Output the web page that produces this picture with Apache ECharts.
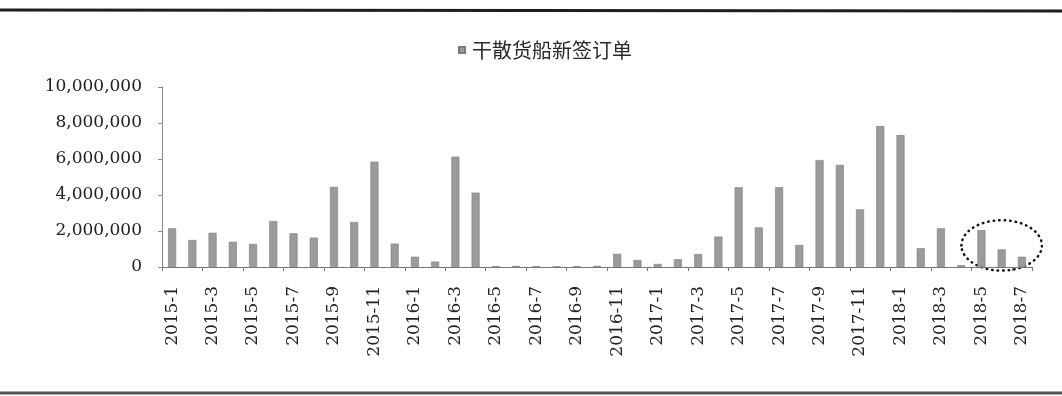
<!DOCTYPE html>
<html>
<head>
<meta charset="utf-8">
<script src="https://cdn.jsdelivr.net/npm/echarts@6/dist/echarts.min.js"></script>
<style>
  html, body { margin: 0; padding: 0; background: #fff; }
  #chart { width: 1062px; height: 396px; }
</style>
</head>
<body>
<div id="chart"></div>
<script>
// Monthly categories, 2015-1 .. 2018-7
const months = [];
for (let y = 2015; y <= 2018; y++) {
  const last = y === 2018 ? 7 : 12;
  for (let m = 1; m <= last; m++) months.push(y + '-' + m);
}

// New dry bulk carrier orders (DWT)
const newOrders = [
  2150000, 1500000, 1900000, 1400000, 1280000, 2550000, 1870000, 1630000, 4450000, 2500000, 5850000, 1300000,
  570000, 300000, 6130000, 4130000, 40000, 60000, 40000, 30000, 40000, 60000, 730000, 390000,
  170000, 430000, 720000, 1690000, 4430000, 2200000, 4430000, 1220000, 5940000, 5670000, 3200000, 7830000,
  7330000, 1040000, 2150000, 100000, 2050000, 980000, 570000
];

const seriesName = '干散货船新签订单';

// Y axis range and step
const yMin = 0, yMax = 10000000, yStep = 2000000;

// Dotted ring around the latest months, in data units
const ringCenter = ['2018-6', 1200000];
const ringFrom = '2018-5', ringTo = '2018-7';
const ringHalfHeight = 1400000;

const chart = echarts.init(document.getElementById('chart'));

const option = {
  backgroundColor: '#ffffff',
  animation: false,
  legend: {
    data: [seriesName],
    left: 453,
    top: 35,
    icon: 'rect',
    itemWidth: 6,
    itemHeight: 6,
    itemGap: 6,
    textStyle: { fontFamily: 'Noto Sans CJK SC', fontSize: 20, color: '#2a2a2a', padding: [0, 0, 0, 2] }
  },
  grid: { left: 162, right: 30, top: 87, bottom: 129, containLabel: false },
  xAxis: {
    type: 'category',
    data: months,
    axisLine: { lineStyle: { color: '#777', width: 1 } },
    axisTick: { show: true, interval: 1, length: 4, lineStyle: { color: '#777' } },
    axisLabel: {
      interval: 1,
      rotate: 90,
      margin: 19,
      fontFamily: 'DejaVu Serif',
      fontSize: 17,
      color: '#222'
    }
  },
  yAxis: {
    type: 'value',
    min: yMin,
    max: yMax,
    interval: yStep,
    splitLine: { show: false },
    axisLine: { show: true, lineStyle: { color: '#888', width: 1 } },
    axisTick: { show: true, length: 4, lineStyle: { color: '#888' } },
    axisLabel: {
      margin: 20,
      fontFamily: 'DejaVu Serif',
      fontSize: 17,
      color: '#222',
      formatter: v => v.toLocaleString('en-US')
    }
  },
  series: [{
    name: seriesName,
    type: 'bar',
    data: newOrders,
    barWidth: 8,
    itemStyle: { color: '#9b9b9b', borderColor: '#7a7a7a', borderWidth: 0.6 }
  }]
};

chart.setOption(option);

// Frame rules and the dotted ring, placed via the chart's own scales
const c = chart.convertToPixel({ xAxisIndex: 0, yAxisIndex: 0 }, ringCenter);
const a = chart.convertToPixel({ xAxisIndex: 0, yAxisIndex: 0 }, [ringFrom, 0]);
const b = chart.convertToPixel({ xAxisIndex: 0, yAxisIndex: 0 }, [ringTo, ringHalfHeight]);
const zero = chart.convertToPixel({ yAxisIndex: 0 }, 0);
const rx = (b[0] - a[0]) / 2 + 20;
const ry = Math.abs(zero - b[1]);

chart.setOption({
  graphic: [
    { type: 'line', shape: { x1: 0, y1: 10, x2: 1062, y2: 11 }, style: { stroke: '#1e1e1e', lineWidth: 3 } },
    { type: 'line', shape: { x1: 0, y1: 393, x2: 1062, y2: 393 }, style: { stroke: '#555', lineWidth: 3 } },
    {
      type: 'ellipse',
      shape: { cx: c[0], cy: c[1], rx: rx, ry: ry },
      style: { fill: null, stroke: '#111', lineWidth: 2.5, lineDash: [0.5, 5], lineCap: 'round' }
    }
  ]
});
</script>
</body>
</html>
